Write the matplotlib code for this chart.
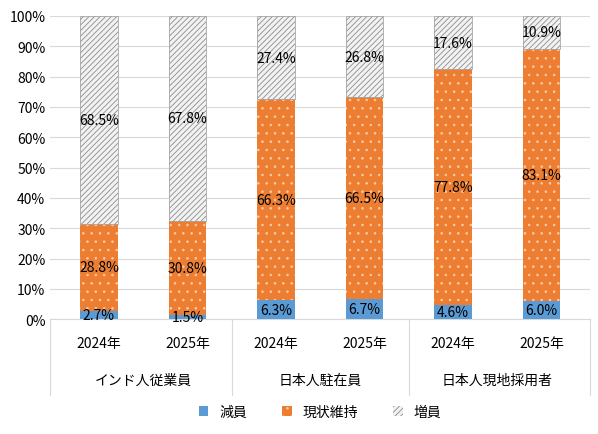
import matplotlib.pyplot as plt
import numpy as np

plt.rcParams['font.family'] = ['Noto Sans CJK JP', 'DejaVu Sans']
plt.rcParams['hatch.linewidth'] = 0.6

years = ["2024年", "2025年"] * 3
groups = ["インド人従業員", "日本人駐在員", "日本人現地採用者"]
decrease = [2.7, 1.5, 6.3, 6.7, 4.6, 6.0]
keep = [28.8, 30.8, 66.3, 66.5, 77.8, 83.1]
increase = [68.5, 67.8, 27.4, 26.8, 17.6, 10.9]

fig = plt.figure(figsize=(5.98, 4.35), dpi=100)
ax = fig.add_axes([0.084, 0.264, 0.903, 0.697])
x = np.arange(len(years))
w = 0.42
d = np.array(decrease)
k = np.array(keep)
inc = np.array(increase)
ax.bar(x, d, w, color="#5B9BD5", label="減員", zorder=3)
ax.bar(x, k, w, bottom=d, color="#ED7D31", edgecolor="#F8CBAD", hatch="..", linewidth=0, label="現状維持", zorder=3)
ax.bar(x, inc, w, bottom=d + k, color="#F2F2F2", edgecolor="#8C8C8C", hatch="//////", linewidth=0, label="増員", zorder=3)
ax.bar(x, inc, w, bottom=d + k, fill=False, edgecolor="#A6A6A6", linewidth=0.6, zorder=3)

for i in range(len(x)):
    ax.text(x[i], d[i] / 2, f"{d[i]:.1f}%", ha="center", va="center", fontsize=10, zorder=4)
    ax.text(x[i], d[i] + k[i] / 2, f"{k[i]:.1f}%", ha="center", va="center", fontsize=10, zorder=4)
    ax.text(x[i], d[i] + k[i] + inc[i] / 2, f"{inc[i]:.1f}%", ha="center", va="center", fontsize=10, zorder=4)

ax.set_xlim(-0.55, len(x) - 0.45)
ax.set_ylim(0, 100)
ax.set_yticks(range(0, 101, 10))
ax.set_yticklabels([f"{v}%" for v in range(0, 101, 10)], fontsize=10)
ax.grid(axis="y", color="#D9D9D9", linewidth=0.8, zorder=0)
for s in ["top", "right", "left"]:
    ax.spines[s].set_visible(False)
ax.spines["bottom"].set_color("#D9D9D9")
ax.tick_params(axis="y", length=0)
ax.set_xticks(x)
ax.set_xticklabels(years, fontsize=10)
ax.tick_params(axis="x", length=0, pad=12)

# group labels and separators
trans = ax.get_xaxis_transform()
for gi, g in enumerate(groups):
    ax.text(2 * gi + 0.5, -0.2, g, transform=trans, ha="center", va="center", fontsize=10)
for b in [-0.55, 1.5, 3.5, 5.55]:
    ax.plot([b, b], [0, -0.25], transform=trans, color="#D9D9D9", linewidth=0.8, clip_on=False)

ax.legend(loc="lower center", bbox_to_anchor=(0.5, -0.37), ncol=3, frameon=False,
          fontsize=10, handlelength=0.7, handleheight=0.7, columnspacing=2.5)

fig.savefig("out.png", dpi=100)
